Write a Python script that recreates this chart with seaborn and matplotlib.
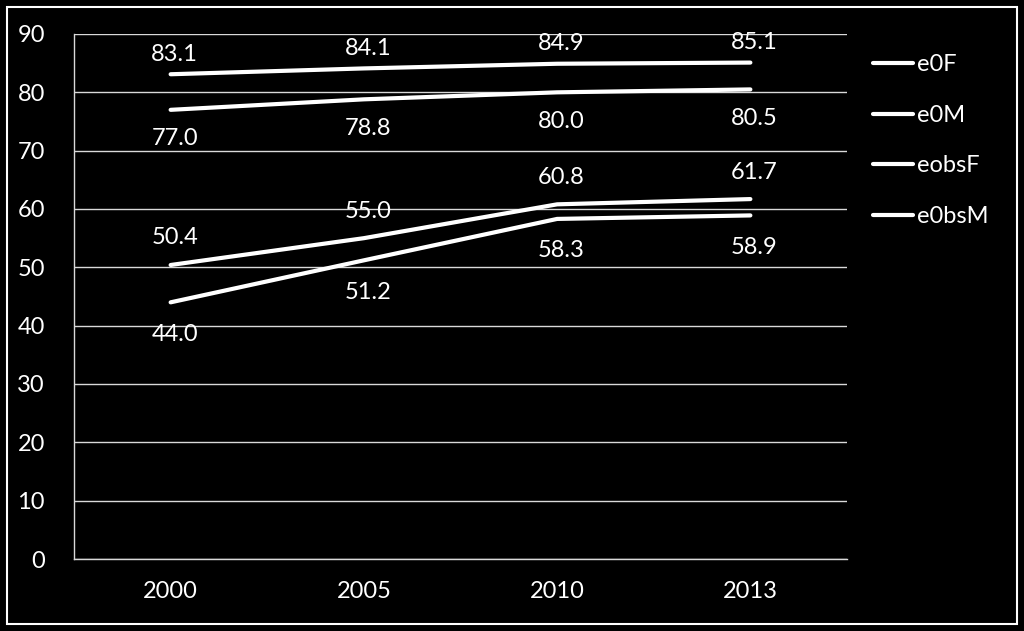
import matplotlib
matplotlib.use("Agg")
import matplotlib.pyplot as plt
import seaborn as sns
import pandas as pd
from matplotlib.patches import Rectangle
from matplotlib.lines import Line2D

years = ["2000", "2005", "2010", "2013"]
series_names = ["e0F", "e0M", "eobsF", "e0bsM"]
e0F = [83.1, 84.1, 84.9, 85.1]
e0M = [77.0, 78.8, 80.0, 80.5]
eobsF = [50.4, 55.0, 60.8, 61.7]
e0bsM = [44.0, 51.2, 58.3, 58.9]
values = [e0F, e0M, eobsF, e0bsM]

# label vertical offsets in pixels (style only)
label_dy = [20, -29, 27, -32]

rows = []
for name, vals in zip(series_names, values):
    for i, (y, v) in enumerate(zip(years, vals)):
        rows.append({"year": y, "pos": i, "value": v, "series": name})
df = pd.DataFrame(rows)

sns.set_theme(style="dark")
plt.rcParams['font.family'] = ['Lato', 'DejaVu Sans']
FS = 17

fig = plt.figure(figsize=(10.24, 6.31), dpi=100, facecolor="black")
ax = fig.add_axes([74/1024, 1-559/631, (847-74)/1024, (559-34)/631])
ax.set_facecolor("black")

sns.lineplot(data=df, x="pos", y="value", hue="series", palette=["white"]*4,
             linewidth=3, legend=False, ax=ax, sort=False)

for name, vals, dy in zip(series_names, values, label_dy):
    for i, v in enumerate(vals):
        ax.annotate(f"{v:.1f}", (i, v), xytext=(4, dy),
                    textcoords="offset pixels",
                    ha="center", va="center", color="white", fontsize=FS)

ax.set_xlim(-0.5, 3.5)
ax.set_ylim(0, 90)
ax.set_yticks(range(0, 91, 10))
ax.set_xticks(range(4))
ax.set_xticklabels(years)
ax.set_xticks([-0.5, 0.5, 1.5, 2.5, 3.5], minor=True)
ax.tick_params(axis="x", which="major", length=0, pad=16, colors="white", labelsize=FS)
ax.tick_params(axis="x", which="minor", length=8, width=1, color="#d9d9d9", direction="out")
ax.tick_params(axis="y", length=9, width=1, color="#d9d9d9", colors="white", labelsize=FS, pad=12)
ax.grid(axis="y", color="#d9d9d9", linewidth=1)
ax.grid(axis="x", visible=False)
ax.set_xlabel("")
ax.set_ylabel("")
for s in ["top", "right"]:
    ax.spines[s].set_visible(False)
for s in ["left", "bottom"]:
    ax.spines[s].set_visible(True)
    ax.spines[s].set_color("#d9d9d9")
    ax.spines[s].set_linewidth(1)

handles = [Line2D([0], [0], color="white", linewidth=3) for _ in series_names]
leg = fig.legend(handles, series_names, loc="upper left",
                 bbox_to_anchor=(852/1024, 1-33/631), frameon=False,
                 labelcolor="white", fontsize=FS, handlelength=1.7,
                 handletextpad=0.15, labelspacing=1.25)

fig.patches.append(Rectangle((7/1024, 7/631), 1-14/1024, 1-14/631,
                             transform=fig.transFigure, fill=False,
                             edgecolor="white", linewidth=1.5))

fig.savefig("out.png", dpi=100, facecolor="black")
